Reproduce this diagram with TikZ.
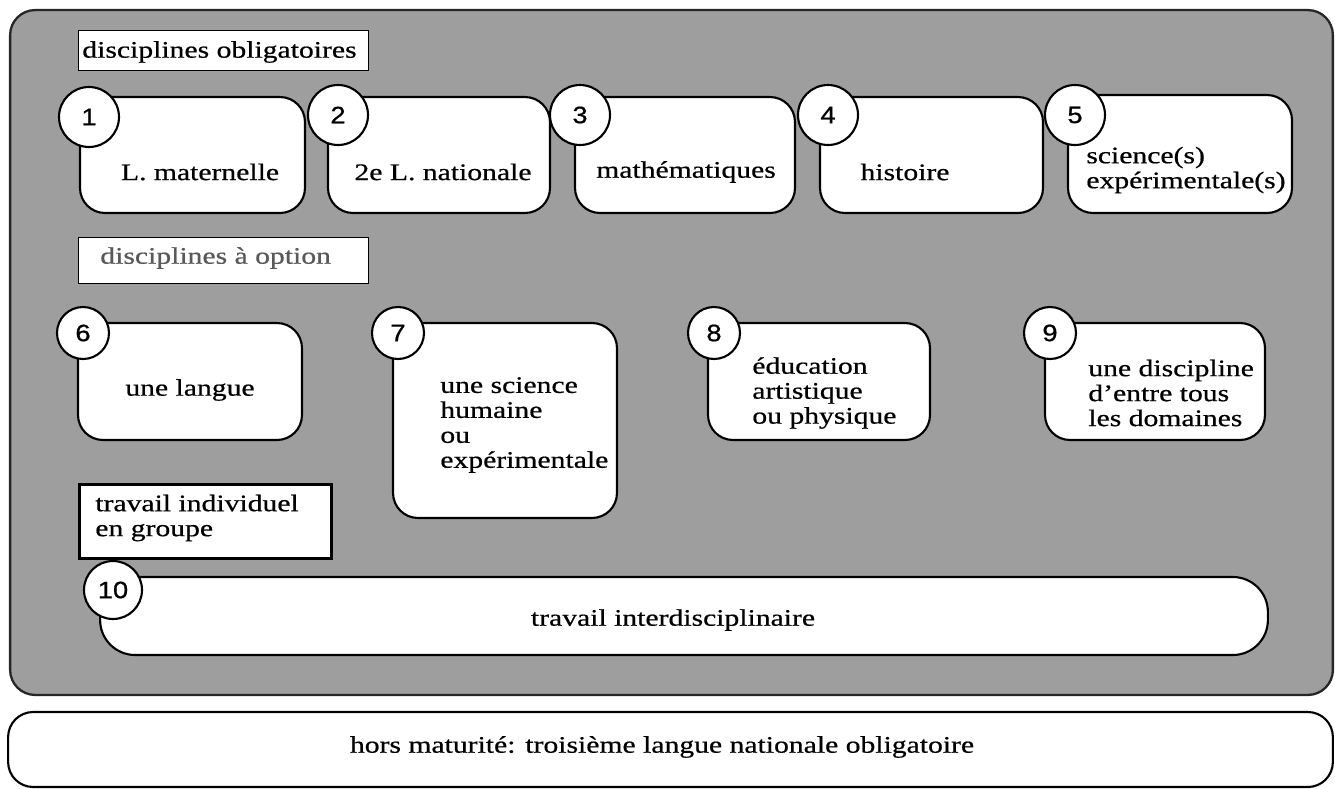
\documentclass[tikz,border=0pt]{standalone}
\usepackage{fontspec}
\setmainfont{Liberation Serif}[FakeStretch=1.25,FakeBold=0.6]
\newfontfamily\numfont{Liberation Sans}[FakeStretch=1.15,FakeBold=0.8]
\definecolor{panelgray}{RGB}{158,158,158}
\begin{document}
\begin{tikzpicture}[x=0.02cm,y=-0.02cm,
  panel/.style={draw=black!85, fill=panelgray, line width=1.3pt, rounded corners=0.5cm, inner sep=0},
  box/.style={draw=black, fill=white, line width=1.2pt, rounded corners=0.5cm, inner sep=0},
  numa/.style={circle, draw=black, fill=white, line width=1.2pt, minimum size=1.2cm, inner sep=0, font=\numfont\fontsize{13.5}{14}\selectfont},
  numb/.style={numa, minimum size=1.04cm},
  txt/.style={inner sep=0, align=left, font=\fontsize{13.5}{14.2}\selectfont},
  lab/.style={draw=black, fill=white, line width=0.7pt, inner sep=0, anchor=north west}
]
\useasboundingbox (0,0) rectangle (1335,788);
\fill[white] (0,0) rectangle (1335,788);

% grey panel
\node[panel, minimum width=26.46cm, minimum height=13.7cm] (panel) at (671.5,352.5) {};

% headings
\node[lab, minimum width=5.8cm, minimum height=0.8cm] (h1) at (78,30) {};
\node[txt, anchor=west] (th1) at (82,52) {disciplines obligatoires};
\node[lab, minimum width=5.8cm, minimum height=0.92cm] (h2) at (78,237) {};
\node[txt, anchor=west, text=black!65] (th2) at (100,258) {disciplines à option};
\node[lab, line width=1.5pt, minimum width=5.04cm, minimum height=1.48cm] (h3) at (78,483) {};
\node[txt, anchor=west] (th3) at (95,518) {travail individuel\\en groupe};

% row 1
\node[box, minimum width=4.5cm,  minimum height=2.32cm] (b1) at (192.5,155) {};
\node[box, minimum width=4.44cm, minimum height=2.32cm] (b2) at (439,155) {};
\node[box, minimum width=4.4cm,  minimum height=2.32cm] (b3) at (685,155) {};
\node[box, minimum width=4.46cm, minimum height=2.32cm] (b4) at (931.5,155) {};
\node[box, minimum width=4.48cm, minimum height=2.36cm] (b5) at (1180,154) {};
\node[txt] (t1) at (200,172) {L. maternelle};
\node[txt] (t2) at (443,172) {2e L. nationale};
\node[txt] (t3) at (686,172) {mathématiques};
\node[txt] (t4) at (905,172) {histoire};
\node[txt, anchor=west] (t5) at (1086,170) {science(s)\\expérimentale(s)};
\node[numa] (n1) at (89,117) {1};
\node[numa] (n2) at (338,115) {2};
\node[numa] (n3) at (580,115) {3};
\node[numa] (n4) at (828,115) {4};
\node[numa] (n5) at (1075,115) {5};

% row 2
\node[box, minimum width=4.48cm, minimum height=2.34cm] (b6) at (190,381.5) {};
\node[box, minimum width=4.48cm, minimum height=3.9cm]  (b7) at (505,420.5) {};
\node[box, minimum width=4.44cm, minimum height=2.34cm] (b8) at (819,381.5) {};
\node[box, minimum width=4.4cm,  minimum height=2.34cm] (b9) at (1155,381.5) {};
\node[txt] (t6) at (190,390) {une langue};
\node[txt, anchor=west] (t7) at (440,425) {une science\\humaine\\ou\\expérimentale};
\node[txt, anchor=west] (t8) at (752,393) {éducation\\artistique\\ou physique};
\node[txt, anchor=west] (t9) at (1088,393) {une discipline\\d'entre tous\\les domaines};
\node[numb] (n6) at (83,333) {6};
\node[numb] (n7) at (398,333) {7};
\node[numb] (n8) at (714,333) {8};
\node[numb] (n9) at (1050,333) {9};

% row 3
\node[box, rounded corners=0.7cm, minimum width=23.36cm, minimum height=1.56cm] (b10) at (684,616) {};
\node[txt] (t10) at (673,620) {travail interdisciplinaire};
\node[numa, minimum size=1.16cm] (n10) at (113,590) {10};

% bottom box
\node[box, minimum width=26.5cm, minimum height=1.5cm] (hm) at (670.5,749.5) {};
\node[txt] (thm) at (662,747) {hors maturité: troisième langue nationale obligatoire};
\end{tikzpicture}
\end{document}
